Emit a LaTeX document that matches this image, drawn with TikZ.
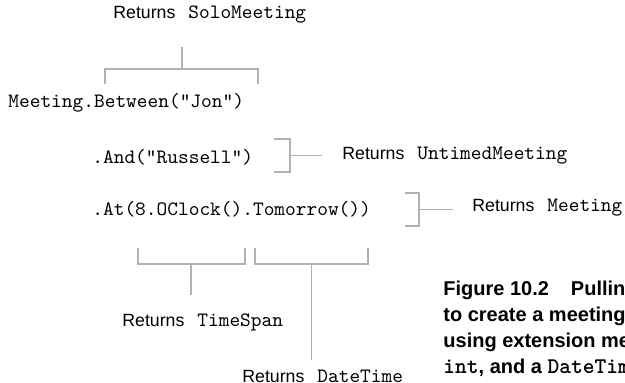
\documentclass[tikz,border=0pt]{standalone}
\usepackage{fontspec}
\setmainfont{Liberation Sans}
\begin{document}
\begin{tikzpicture}[x=0.5pt,y=-0.5pt,
		brace/.style={draw=gray!60,line width=0.6pt},
		code/.style={anchor=west,inner sep=0pt,font=\fontsize{10.2}{12}\selectfont\ttfamily},
		ret/.style={anchor=west,inner sep=0pt,font=\fontsize{8.85}{11}\selectfont},
		caption/.style={anchor=north west,inner sep=0pt,align=left,
			font=\fontsize{10}{13}\selectfont\bfseries}]
		\useasboundingbox (0,0) rectangle (625,383);
		\clip (0,0) rectangle (625,383);
		
		\newcommand{\rtype}[1]{Returns\hspace{6.5pt}{\fontsize{10.2}{12}\selectfont\ttfamily #1}}
		\newcommand{\captt}[1]{{\fontsize{11.2}{13}\selectfont\ttfamily #1}}
		
		\node[code] (between) at (8,103) {Meeting.Between("Jon")};
		\node[code] (and) at (92,157) {.And("Russell")};
		\node[code] (at) at (92,209) {.At(8.OClock().Tomorrow())};
		
		\node[ret] (solo) at (113,15) {\rtype{SoloMeeting}};
		\node[ret] (untimed) at (342,156) {\rtype{UntimedMeeting}};
		\node[ret] (meeting) at (472,208) {\rtype{Meeting}};
		\node[ret] (timespan) at (122,322) {\rtype{TimeSpan}};
		\node[ret] (datetime) at (242,376) {\rtype{DateTime}};
		
		\node[caption] (fig) at (443,281) {Figure 10.2\hspace{11pt}Pulling\\
			to create a meeting\\
			using extension methods\\
			\captt{int}, and a \captt{DateTime}};
		
		% bracket under SoloMeeting
		\coordinate (soloend) at (182,47);
		\coordinate (solobar) at (182,69);
		\draw[brace] (105,84) |- (258,69) -- (258,84);
		\draw[brace] (soloend) -- (solobar);
		
		% bracket after .And
		\coordinate (andmid) at (290,155.5);
		\coordinate (andend) at (322,155.5);
		\draw[brace] (274,139) -- (290,139) -- (290,172) -- (274,172);
		\draw[brace] (andmid) -- (andend);
		
		% bracket after .At
		\coordinate (atmid) at (419,209.5);
		\coordinate (atend) at (453,209.5);
		\draw[brace] (405,193) -- (419,193) -- (419,226) -- (405,226);
		\draw[brace] (atmid) -- (atend);
		
		% brackets under the arguments
		\coordinate (spanbar) at (191,264);
		\coordinate (spanend) at (191,295);
		\draw[brace] (138,248) |- (245,264) -- (245,248);
		\draw[brace] (spanbar) -- (spanend);
		
		\coordinate (datebar) at (311.5,264);
		\coordinate (dateend) at (311.5,360);
		\draw[brace] (255,248) |- (368,264) -- (368,248);
		\draw[brace] (datebar) -- (dateend);
	\end{tikzpicture}
\end{document}
